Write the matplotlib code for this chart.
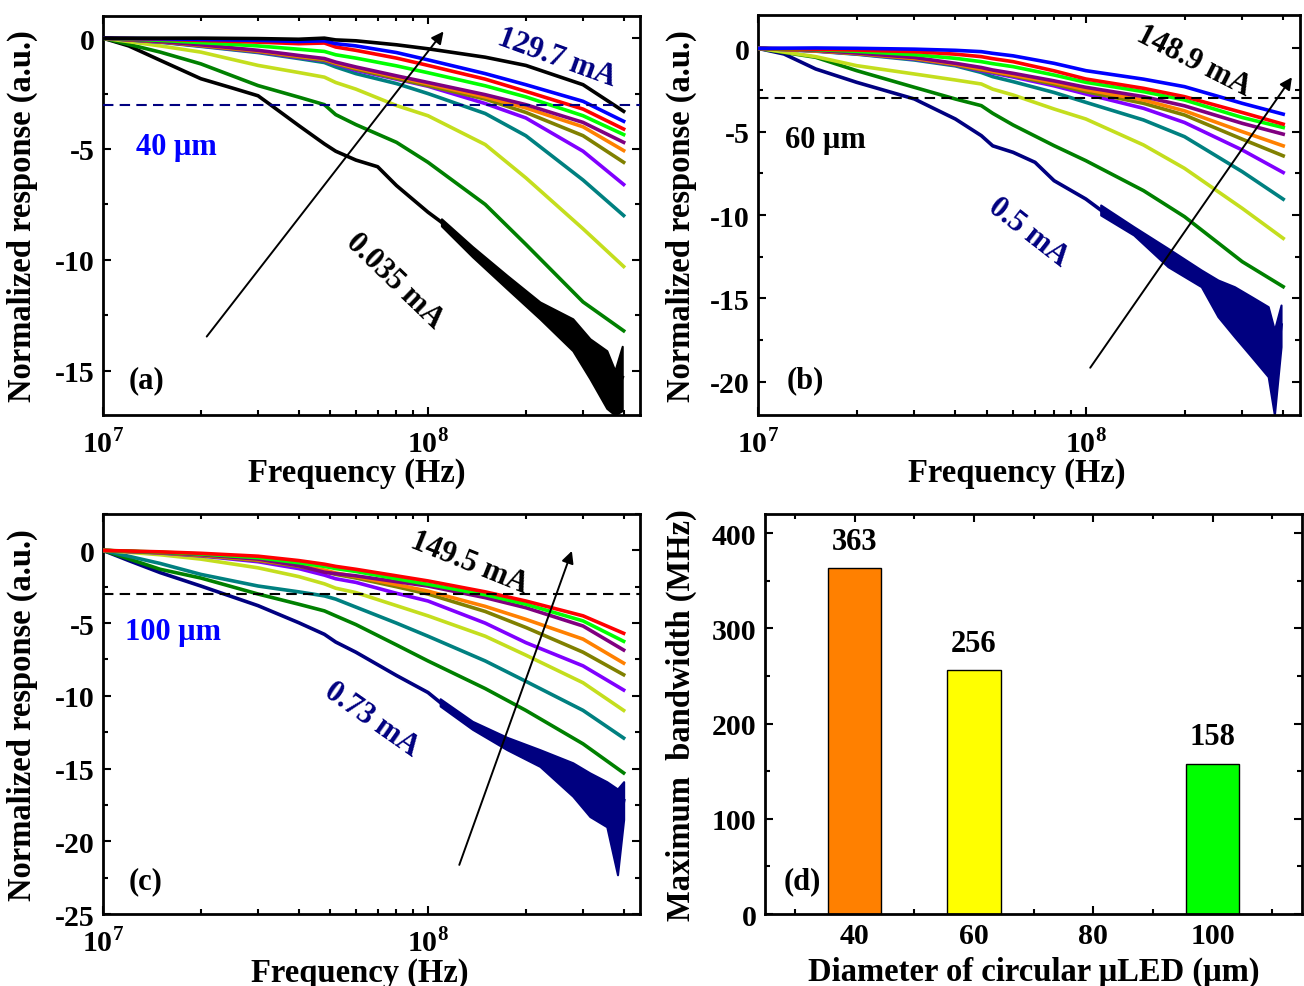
import numpy as np
import matplotlib
matplotlib.use('Agg')
import matplotlib.pyplot as plt
from matplotlib.ticker import FixedLocator, FixedFormatter, NullFormatter, MultipleLocator

plt.rcParams['font.family'] = 'Liberation Serif'
plt.rcParams['font.weight'] = 'bold'
plt.rcParams['mathtext.fontset'] = 'custom'
plt.rcParams['mathtext.rm'] = 'Liberation Serif:bold'
plt.rcParams['mathtext.bf'] = 'Liberation Serif:bold'
plt.rcParams['axes.unicode_minus'] = False

# --- Data: normalized frequency response (dB) vs frequency (MHz) ---

FREQ = [10, 15, 20, 30, 40, 48, 52, 60, 80, 100, 150, 200, 300, 400]

# 40 um device, curves from highest to lowest drive current (129.7 mA ... )
COLORS_A = ['#000000', '#0000FF', '#FF0000', '#00FF00', '#800080', '#FF8000',
            '#808000', '#8000FF', '#008080', '#C4DE1E', '#008000']
RESP_A = [
    [0, 0, 0, -0.02, -0.05, 0.0, -0.08, -0.12, -0.3, -0.48, -0.86, -1.23, -2.1, -3.3],
    [0, -0.03, -0.06, -0.1, -0.15, -0.12, -0.25, -0.35, -0.65, -0.98, -1.6, -2.1, -2.85, -3.75],
    [0, -0.05, -0.1, -0.18, -0.25, -0.22, -0.4, -0.55, -0.9, -1.23, -1.85, -2.4, -3.2, -4.1],
    [0, -0.1, -0.2, -0.35, -0.5, -0.6, -0.75, -0.9, -1.25, -1.56, -2.15, -2.65, -3.5, -4.35],
    [0, -0.15, -0.3, -0.55, -0.78, -0.92, -1.08, -1.3, -1.7, -2.0, -2.55, -3.0, -3.8, -4.7],
    [0, -0.15, -0.32, -0.58, -0.82, -0.95, -1.12, -1.35, -1.75, -2.06, -2.65, -3.15, -4.0, -5.07],
    [0, -0.16, -0.34, -0.6, -0.85, -1.0, -1.15, -1.4, -1.82, -2.14, -2.75, -3.35, -4.4, -5.6],
    [0, -0.17, -0.35, -0.62, -0.88, -1.02, -1.18, -1.45, -1.85, -2.17, -2.95, -3.6, -5.1, -6.6],
    [0, -0.18, -0.37, -0.65, -0.92, -1.1, -1.3, -1.6, -2.05, -2.5, -3.4, -4.4, -6.4, -8.0],
    [0, -0.35, -0.63, -1.23, -1.55, -1.76, -2.0, -2.3, -3.04, -3.5, -4.8, -6.3, -8.6, -10.3],
    [0, -0.63, -1.16, -2.14, -2.66, -3.0, -3.45, -3.9, -4.7, -5.6, -7.5, -9.3, -11.9, -13.2],
]
# lowest current (0.035 mA)
FREQ_A_LOW = [10, 12, 15, 20, 25, 30, 33, 40, 48, 52, 60, 70, 80, 100, 110, 137, 175, 221, 279,
              315, 355, 376, 396]
RESP_A_LOW = [0, -0.35, -1.0, -1.83, -2.25, -2.6, -3.04, -3.94, -4.77, -5.1, -5.5, -5.8, -6.65,
              -7.85, -8.3, -9.6, -11.0, -12.3, -13.4, -14.5, -15.4, -16.0, -15.3]
COLOR_A_LOW = '#000000'

# 60 um device (148.9 mA ... 0.5 mA)
COLORS_B = ['#0000FF', '#FF0000', '#00FF00', '#800080', '#FF8000', '#808000',
            '#8000FF', '#008080', '#C4DE1E', '#008000']
RESP_B = [
    [0, 0.02, 0, -0.05, -0.12, -0.2, -0.3, -0.45, -0.9, -1.34, -1.85, -2.3, -3.3, -3.95],
    [0, -0.05, -0.1, -0.2, -0.35, -0.5, -0.62, -0.8, -1.35, -1.84, -2.4, -2.9, -3.85, -4.55],
    [0, -0.08, -0.18, -0.38, -0.6, -0.8, -0.92, -1.1, -1.6, -2.04, -2.6, -3.1, -4.15, -4.75],
    [0, -0.12, -0.28, -0.55, -0.9, -1.15, -1.3, -1.5, -1.95, -2.34, -2.9, -3.45, -4.5, -5.15],
    [0, -0.15, -0.3, -0.6, -0.95, -1.25, -1.38, -1.6, -2.05, -2.48, -3.1, -3.75, -5.0, -5.85],
    [0, -0.15, -0.32, -0.62, -0.98, -1.3, -1.42, -1.65, -2.15, -2.6, -3.3, -4.0, -5.45, -6.45],
    [0, -0.16, -0.33, -0.65, -1.0, -1.35, -1.48, -1.72, -2.25, -2.74, -3.6, -4.45, -6.1, -7.45],
    [0, -0.17, -0.35, -0.7, -1.05, -1.45, -1.7, -2.0, -2.65, -3.24, -4.3, -5.3, -7.4, -9.05],
    [0, -0.5, -1.04, -1.54, -1.9, -2.14, -2.45, -2.8, -3.64, -4.24, -5.8, -7.2, -9.6, -11.4],
    [0, -0.54, -1.34, -2.34, -3.04, -3.44, -3.9, -4.6, -5.84, -6.74, -8.54, -10.1, -12.8, -14.3],
]
FREQ_B_LOW = [10, 12, 15, 20, 30, 40, 48, 52, 60, 70, 80, 100, 111, 140, 178, 225, 253, 284,
              320, 360, 376, 394]
RESP_B_LOW = [0, -0.34, -1.24, -2.04, -3.04, -4.24, -5.24, -5.85, -6.24, -6.84, -7.94, -9.04,
              -9.7, -10.95, -12.55, -13.8, -15.0, -15.8, -16.7, -17.6, -19.5, -16.6]
COLOR_B_LOW = '#000080'

# 100 um device (149.5 mA ... 0.73 mA)
COLORS_C = ['#FF0000', '#00FF00', '#800080', '#FF8000', '#808000', '#8000FF',
            '#C4DE1E', '#008080', '#008000']
RESP_C = [
    [0, -0.1, -0.2, -0.4, -0.7, -0.95, -1.1, -1.3, -1.75, -2.1, -2.85, -3.48, -4.5, -5.7],
    [0, -0.12, -0.25, -0.5, -0.85, -1.1, -1.25, -1.45, -1.95, -2.33, -3.05, -3.7, -4.85, -6.25],
    [0, -0.15, -0.3, -0.6, -1.05, -1.5, -1.6, -1.75, -2.15, -2.45, -3.25, -3.94, -5.2, -6.85],
    [0, -0.15, -0.32, -0.65, -1.05, -1.35, -1.55, -1.8, -2.35, -2.8, -3.85, -4.74, -6.1, -7.75],
    [0, -0.16, -0.35, -0.7, -1.1, -1.45, -1.65, -1.9, -2.5, -3.0, -4.2, -5.3, -7.0, -8.55],
    [0, -0.18, -0.38, -0.78, -1.25, -1.7, -1.95, -2.2, -2.95, -3.48, -5.0, -6.34, -7.94, -9.6],
    [0, -0.3, -0.6, -1.2, -1.8, -2.3, -2.6, -2.9, -3.8, -4.5, -5.9, -7.2, -9.1, -11.0],
    [0, -0.9, -1.65, -2.45, -2.85, -3.13, -3.35, -3.9, -5.0, -5.9, -7.6, -9.0, -11.0, -12.9],
    [0, -1.3, -1.9, -3.0, -3.7, -4.16, -4.5, -5.1, -6.5, -7.6, -9.5, -11.0, -13.3, -15.3],
]
FREQ_C_LOW = [10, 12, 15, 20, 30, 40, 48, 52, 60, 80, 100, 109, 137, 175, 221, 279, 315, 355,
              383, 400]
RESP_C_LOW = [0, -0.7, -1.53, -2.45, -3.8, -4.97, -5.77, -6.3, -7.0, -8.6, -9.77, -10.45, -12.0,
              -13.3, -14.3, -15.7, -16.8, -17.4, -19.3, -17.2]
COLOR_C_LOW = '#000080'

# noise envelope of the lowest-current traces at high frequency
TAIL_FREQ_A = [110, 137, 175, 221, 279, 315, 355, 376, 396]
TAIL_A_HI = [-8.15, -9.4, -10.7, -11.9, -12.66, -13.56, -14.1, -15.0, -13.9]
TAIL_A_LO = [-8.47, -9.86, -11.3, -12.66, -14.1, -15.36, -16.7, -17.0, -16.8]
TAIL_FREQ_B = [111, 140, 178, 225, 253, 284, 320, 360, 376, 394]
TAIL_B_HI = [-9.4, -10.7, -12.0, -13.3, -13.9, -14.3, -14.9, -15.5, -16.9, -15.4]
TAIL_B_LO = [-10.0, -11.2, -13.1, -14.3, -16.1, -17.3, -18.5, -19.7, -22.0, -17.9]
TAIL_FREQ_C = [109, 137, 175, 221, 279, 315, 355, 383, 400]
TAIL_C_HI = [-10.2, -11.75, -12.85, -13.7, -14.6, -15.3, -15.9, -16.4, -15.9]
TAIL_C_LO = [-10.7, -12.3, -13.7, -14.85, -16.9, -18.3, -19.0, -22.3, -18.5]

# maximum -3 dB bandwidth vs diameter
DIAMETERS = [40, 60, 100]
BANDWIDTH = [363, 256, 158]
BAR_COLORS = ['#FF8000', '#FFFF00', '#00FF00']

MHZ = 1e6
TICK_FS = 21.5
LABEL_FS = 23.5
TEXT_FS = 22


def style_axes(ax):
    for sp in ax.spines.values():
        sp.set_linewidth(2.0)
    ax.tick_params(which='both', direction='in', top=True, right=True,
                   labelsize=TICK_FS, width=1.5)
    ax.tick_params(axis='x', which='both', pad=9)
    ax.tick_params(axis='y', which='both', pad=6)
    ax.tick_params(which='major', length=6)
    ax.tick_params(which='minor', length=3.5)


def response_panel(ax, colors, rows, f_low, r_low, c_low, tail_f, tail_hi, tail_lo, ylim, yticks, dash_color):
    f_hz = np.array(FREQ) * MHZ
    ax.fill_between(np.array(tail_f) * MHZ, tail_lo, tail_hi, color=c_low, lw=1.5, zorder=2)
    ax.plot(np.array(f_low) * MHZ, r_low, color=c_low, lw=2.6, zorder=2)
    for col, row in reversed(list(zip(colors, rows))):
        ax.plot(f_hz, row, color=col, lw=2.6, zorder=3)
    ax.axhline(-3, color=dash_color, lw=1.5, dashes=(5, 3), zorder=4)
    ax.set_xscale('log')
    ax.set_xlim(1e7, 4.5e8)
    ax.set_ylim(*ylim)
    ax.xaxis.set_major_locator(FixedLocator([1e7, 1e8]))
    ax.xaxis.set_major_formatter(FixedFormatter([r'$10^{7}$', r'$10^{8}$']))
    ax.xaxis.set_minor_locator(FixedLocator([k * 1e7 for k in range(2, 10)] + [k * 1e8 for k in range(2, 5)]))
    ax.xaxis.set_minor_formatter(NullFormatter())
    ax.yaxis.set_major_locator(FixedLocator(yticks))
    ax.yaxis.set_minor_locator(MultipleLocator(2.5))
    style_axes(ax)
    ax.set_xlabel('Frequency (Hz)', fontsize=LABEL_FS, fontweight='bold')
    ax.set_ylabel('Normalized response (a.u.)', fontsize=LABEL_FS, fontweight='bold')
    ax.xaxis.set_label_coords(0.472, -0.105)
    ax.yaxis.set_label_coords(-0.121, 0.5)


fig = plt.figure(figsize=(13.04, 9.87), dpi=100)
ax_a = fig.add_axes([0.079, 0.5785, 0.412, 0.4043])
ax_b = fig.add_axes([0.5813, 0.5785, 0.4156, 0.4053])
ax_c = fig.add_axes([0.079, 0.0729, 0.412, 0.4053])
ax_d = fig.add_axes([0.5867, 0.0729, 0.4118, 0.4053])

# (a) 40 um
response_panel(ax_a, COLORS_A, RESP_A, FREQ_A_LOW, RESP_A_LOW, COLOR_A_LOW,
               TAIL_FREQ_A, TAIL_A_HI, TAIL_A_LO, (-17, 1), [0, -5, -10, -15], '#000080')
ax_a.annotate('', xy=(1.13e8, 0.4), xytext=(2.06e7, -13.56),
              arrowprops=dict(arrowstyle='-|>', color='k', lw=1.4, mutation_scale=18))
ax_a.text(2.49e8, -0.86, '129.7 mA', color='#000080', fontsize=TEXT_FS, rotation=-20,
          ha='center', va='center', fontweight='bold')
ax_a.text(7.9e7, -10.95, '0.035 mA', color='k', fontsize=TEXT_FS, rotation=-44,
          ha='center', va='center', fontweight='bold')
ax_a.text(1.68e7, -4.9, '40 μm', color='#0000FF', fontsize=TEXT_FS,
          ha='center', va='center', fontweight='bold')
ax_a.text(1.36e7, -15.4, '(a)', color='k', fontsize=TEXT_FS, ha='center', va='center', fontweight='bold')

# (b) 60 um
response_panel(ax_b, COLORS_B, RESP_B, FREQ_B_LOW, RESP_B_LOW, COLOR_B_LOW,
               TAIL_FREQ_B, TAIL_B_HI, TAIL_B_LO, (-22, 2), [0, -5, -10, -15, -20], 'k')
ax_b.yaxis.set_label_coords(-0.113, 0.5)
ax_b.xaxis.set_label_coords(0.478, -0.105)
ax_b.annotate('', xy=(4.3e8, -1.6), xytext=(1.02e8, -19.3),
              arrowprops=dict(arrowstyle='-|>', color='k', lw=1.4, mutation_scale=18))
ax_b.text(2.14e8, -0.72, '148.9 mA', color='k', fontsize=TEXT_FS, rotation=-27,
          ha='center', va='center', fontweight='bold')
ax_b.text(6.7e7, -11.0, '0.5 mA', color='#000080', fontsize=TEXT_FS, rotation=-38,
          ha='center', va='center', fontweight='bold')
ax_b.text(1.6e7, -5.5, '60 μm', color='k', fontsize=TEXT_FS,
          ha='center', va='center', fontweight='bold')
ax_b.text(1.39e7, -19.9, '(b)', color='k', fontsize=TEXT_FS, ha='center', va='center', fontweight='bold')

# (c) 100 um
response_panel(ax_c, COLORS_C, RESP_C, FREQ_C_LOW, RESP_C_LOW, COLOR_C_LOW,
               TAIL_FREQ_C, TAIL_C_HI, TAIL_C_LO, (-25, 2.5), [0, -5, -10, -15, -20, -25], 'k')
ax_c.xaxis.set_label_coords(0.478, -0.107)
ax_c.annotate('', xy=(2.79e8, 0.14), xytext=(1.24e8, -21.8),
              arrowprops=dict(arrowstyle='-|>', color='k', lw=1.4, mutation_scale=18))
ax_c.text(1.34e8, -0.82, '149.5 mA', color='k', fontsize=TEXT_FS, rotation=-22,
          ha='center', va='center', fontweight='bold')
ax_c.text(6.7e7, -11.6, '0.73 mA', color='#000080', fontsize=TEXT_FS, rotation=-35,
          ha='center', va='center', fontweight='bold')
ax_c.text(1.64e7, -5.57, '100 μm', color='#0000FF', fontsize=TEXT_FS,
          ha='center', va='center', fontweight='bold')
ax_c.text(1.35e7, -22.7, '(c)', color='k', fontsize=TEXT_FS, ha='center', va='center', fontweight='bold')

# (d) bandwidth bars
ax_d.bar(DIAMETERS, BANDWIDTH, width=9, color=BAR_COLORS, edgecolor='k', linewidth=1.0, zorder=2)
for x, v in zip(DIAMETERS, BANDWIDTH):
    ax_d.annotate(str(v), xy=(x, v), xytext=(0, 9), textcoords='offset points',
                  ha='center', va='bottom', fontsize=TEXT_FS, fontweight='bold')
ax_d.set_xlim(25, 115)
ax_d.set_ylim(0, 420)
ax_d.xaxis.set_major_locator(FixedLocator([40, 60, 80, 100]))
ax_d.xaxis.set_minor_locator(FixedLocator([30, 50, 70, 90, 110]))
ax_d.yaxis.set_major_locator(MultipleLocator(100))
ax_d.yaxis.set_minor_locator(MultipleLocator(50))
style_axes(ax_d)
ax_d.tick_params(axis='x', which='both', pad=6)
ax_d.set_xlabel('Diameter of circular μLED (μm)', fontsize=LABEL_FS, fontweight='bold')
ax_d.set_ylabel('Maximum  bandwidth (MHz)', fontsize=LABEL_FS, fontweight='bold')
ax_d.xaxis.set_label_coords(0.5, -0.105)
ax_d.yaxis.set_label_coords(-0.127, 0.5)
ax_d.text(31.2, 35, '(d)', color='k', fontsize=TEXT_FS, ha='center', va='center', fontweight='bold')

fig.savefig('out.png', dpi=100)
